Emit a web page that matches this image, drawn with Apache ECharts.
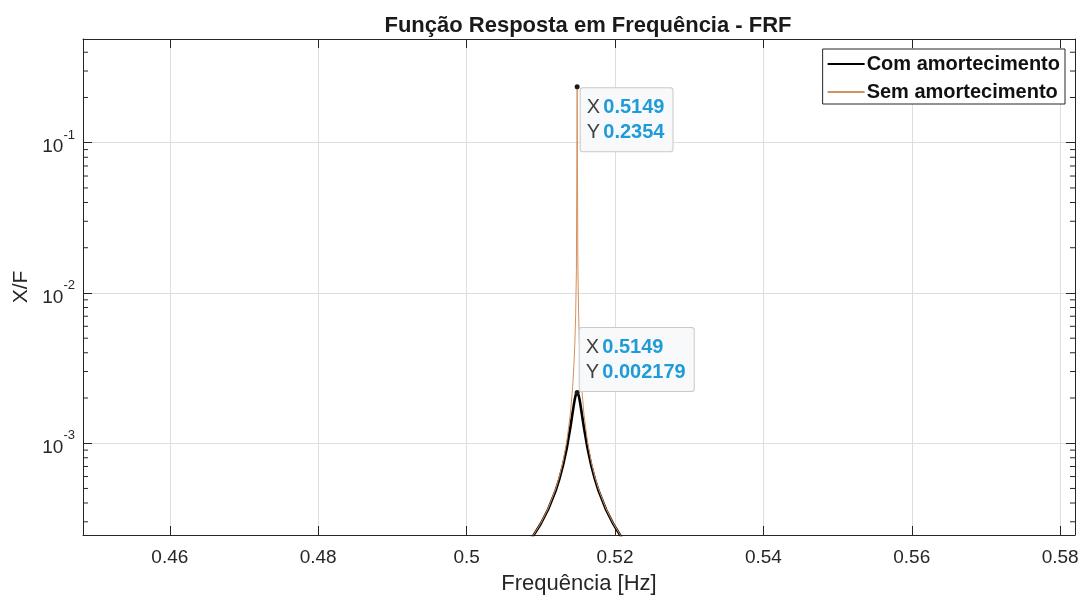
<!DOCTYPE html>
<html>
<head>
<meta charset="utf-8">
<script src="https://cdn.jsdelivr.net/npm/echarts@6/dist/echarts.min.js"></script>
<style>
html,body{margin:0;padding:0;background:#fff;}
#chart{width:1083px;height:600px;}
</style>
</head>
<body>
<div id="chart"></div>
<script>
// frequencia [Hz]
var freq = [0.5050, 0.5080, 0.5090, 0.5100, 0.5110, 0.5120, 0.5125, 0.5130, 0.5135, 0.5140,
    0.5143, 0.5145, 0.5146, 0.5147, 0.5148, 0.5149, 0.5150, 0.5151, 0.5152, 0.5153,
    0.5155, 0.5158, 0.5163, 0.5168, 0.5173, 0.5178, 0.5188, 0.5198, 0.5208, 0.5218, 0.5250];
// X/F com amortecimento
var comAmort = [1.457e-4, 2.080e-4, 2.426e-4, 2.910e-4, 3.634e-4, 4.828e-4, 5.767e-4, 7.134e-4, 9.269e-4, 1.286e-3,
    1.610e-3, 1.862e-3, 1.983e-3, 2.085e-3, 2.155e-3, 2.179e-3, 2.155e-3, 2.085e-3, 1.982e-3, 1.861e-3,
    1.609e-3, 1.284e-3, 9.248e-4, 7.111e-4, 5.742e-4, 4.803e-4, 3.607e-4, 2.883e-4, 2.398e-4, 2.052e-4, 1.401e-4];
// X/F sem amortecimento
var semAmort = [1.460e-4, 2.089e-4, 2.441e-4, 2.936e-4, 3.685e-4, 4.951e-4, 5.980e-4, 7.550e-4, 1.024e-3, 1.592e-3,
    2.388e-3, 3.581e-3, 4.774e-3, 7.161e-3, 1.41e-2, 0.2354, 1.45e-2, 7.158e-3, 4.770e-3, 3.578e-3,
    2.385e-3, 1.590e-3, 1.021e-3, 7.522e-4, 5.952e-4, 4.924e-4, 3.658e-4, 2.908e-4, 2.413e-4, 2.061e-4, 1.404e-4];
// limites dos eixos
var xLim = [0.4483, 0.5820];
var yLim = [2.45e-4, 0.49];
// ticks menores do eixo log
var minorTicks = [3e-4, 4e-4, 5e-4, 6e-4, 7e-4, 8e-4, 9e-4,
    2e-3, 3e-3, 4e-3, 5e-3, 6e-3, 7e-3, 8e-3, 9e-3,
    2e-2, 3e-2, 4e-2, 5e-2, 6e-2, 7e-2, 8e-2, 9e-2,
    2e-1, 3e-1, 4e-1];
// data tips (indice no vetor freq)
var tipIdx = 15;

var fonte = "'Liberation Sans', Arial, Helvetica, sans-serif";
var escuro = '#262626';

function pares(xs, ys){
    var out = [];
    for(var i=0;i<xs.length;i++){
        out.push([xs[i], ys[i]]);
    }
    return out;
}

function tipLabel(x, y){
    return '{k|X} {v|' + x + '}\n{k|Y} {v|' + y + '}';
}

var tipStyle = {
    show: true,
    backgroundColor: 'rgba(248,249,251,0.96)',
    borderColor: '#c9c9c9',
    borderWidth: 1,
    borderRadius: 2,
    padding: [7, 8, 6, 6],
    rich: {
        k: {fontSize: 20, color: '#404040', fontFamily: fonte, lineHeight: 25},
        v: {fontSize: 20, color: '#1f9bd8', fontWeight: 'bold', fontFamily: fonte, lineHeight: 25}
    }
};

var myChart = echarts.init(document.getElementById('chart'));
var option = {
    backgroundColor: '#fff',
    animation: false,
    title: {
        text: 'Função Resposta em Frequência - FRF',
        left: 583,
        textAlign: 'center',
        top: 10,
        textStyle: {fontSize: 22, fontWeight: 'bold', color: '#1a1a1a', fontFamily: fonte}
    },
    legend: {
        data: [
            {name: 'Com amortecimento', itemStyle: {opacity: 0}},
            {name: 'Sem amortecimento', itemStyle: {opacity: 0}}
        ],
        orient: 'vertical',
        right: 18,
        top: 49,
        backgroundColor: '#fff',
        borderColor: escuro,
        borderWidth: 1,
        borderRadius: 0,
        padding: [4, 5, 1, 4],
        itemWidth: 37,
        itemHeight: 3,
        itemGap: 6,
        textStyle: {fontSize: 20, fontWeight: 'bold', color: '#111', fontFamily: fonte, lineHeight: 22, padding: [0, 0, 0, -3]}
    },
    grid: {left: 83, right: 8, top: 39, bottom: 63},
    xAxis: [
        {
            type: 'value',
            min: xLim[0],
            max: xLim[1],
            splitNumber: 7,
            name: 'Frequência [Hz]',
            nameLocation: 'middle',
            nameGap: 38,
            nameTextStyle: {fontSize: 22, color: escuro, fontFamily: fonte},
            axisLine: {lineStyle: {color: escuro, width: 1}},
            axisTick: {inside: true, length: 9, lineStyle: {color: escuro}},
            axisLabel: {
                fontSize: 19, color: escuro, fontFamily: fonte, margin: 13,
                showMinLabel: false, showMaxLabel: false,
                formatter: function(v){ return String(+v.toFixed(4)); }
            },
            splitLine: {show: true, lineStyle: {color: '#dedede', width: 1}}
        },
        {
            type: 'value',
            position: 'top',
            min: xLim[0],
            max: xLim[1],
            splitNumber: 7,
            axisLine: {lineStyle: {color: escuro, width: 1}},
            axisTick: {inside: true, length: 9, lineStyle: {color: escuro}},
            axisLabel: {show: false},
            splitLine: {show: false}
        }
    ],
    yAxis: [
        {
            type: 'log',
            logBase: 10,
            min: yLim[0],
            max: yLim[1],
            name: 'X/F',
            nameLocation: 'middle',
            nameGap: 50,
            nameTextStyle: {fontSize: 21, color: escuro, fontFamily: fonte},
            axisLine: {show: true, lineStyle: {color: escuro, width: 1}},
            axisTick: {inside: true, length: 9, lineStyle: {color: escuro}},
            axisLabel: {
                margin: 8,
                showMinLabel: false, showMaxLabel: false,
                formatter: function(v){
                    var e = Math.round(Math.log(v)/Math.LN10);
                    return '{b|10}{s|' + e + '}';
                },
                rich: {
                    b: {fontSize: 19, color: escuro, fontFamily: fonte, verticalAlign: 'bottom', lineHeight: 28},
                    s: {fontSize: 13, color: escuro, fontFamily: fonte, verticalAlign: 'top', lineHeight: 15}
                }
            },
            splitLine: {show: true, lineStyle: {color: '#dedede', width: 1}}
        },
        {
            type: 'log',
            logBase: 10,
            position: 'right',
            min: yLim[0],
            max: yLim[1],
            axisLine: {show: true, lineStyle: {color: escuro, width: 1}},
            axisTick: {inside: true, length: 9, lineStyle: {color: escuro}},
            axisLabel: {show: false},
            splitLine: {show: false}
        }
    ],
    series: [
        {
            name: 'Com amortecimento',
            type: 'line',
            symbol: 'none',
            showSymbol: false,
            z: 3,
            color: '#000000',
            lineStyle: {color: '#000000', width: 2.6},
            data: pares(freq, comAmort),
            markPoint: {
                symbol: 'circle',
                symbolSize: 5,
                itemStyle: {color: '#1a1a1a'},
                label: Object.assign({}, tipStyle, {
                    position: [5, 1],
                    verticalAlign: 'bottom',
                    formatter: tipLabel(freq[tipIdx], comAmort[tipIdx])
                }),
                data: [{coord: [freq[tipIdx], comAmort[tipIdx]]}]
            }
        },
        {
            name: 'Sem amortecimento',
            type: 'line',
            symbol: 'none',
            showSymbol: false,
            z: 4,
            color: '#d4905e',
            lineStyle: {color: '#d4905e', width: 1},
            data: pares(freq, semAmort),
            markPoint: {
                symbol: 'circle',
                symbolSize: 5,
                itemStyle: {color: '#1a1a1a'},
                label: Object.assign({}, tipStyle, {
                    position: [6, 4],
                    formatter: tipLabel(freq[tipIdx], semAmort[tipIdx])
                }),
                data: [{coord: [freq[tipIdx], semAmort[tipIdx]]}]
            }
        },
        {
            // ticks menores (esquerda e direita)
            type: 'custom',
            silent: true,
            z: 5,
            clip: false,
            data: minorTicks.map(function(v){ return [xLim[0], v]; }),
            renderItem: function(params, api){
                var pl = api.coord([xLim[0], api.value(1)]);
                var pr = api.coord([xLim[1], api.value(1)]);
                var st = {stroke: escuro, lineWidth: 1};
                return {
                    type: 'group',
                    children: [
                        {type: 'line', shape: {x1: pl[0], y1: pl[1], x2: pl[0] + 5, y2: pl[1]}, style: st},
                        {type: 'line', shape: {x1: pr[0], y1: pr[1], x2: pr[0] - 5, y2: pr[1]}, style: st}
                    ]
                };
            }
        }
    ]
};
myChart.setOption(option);
</script>
</body>
</html>
